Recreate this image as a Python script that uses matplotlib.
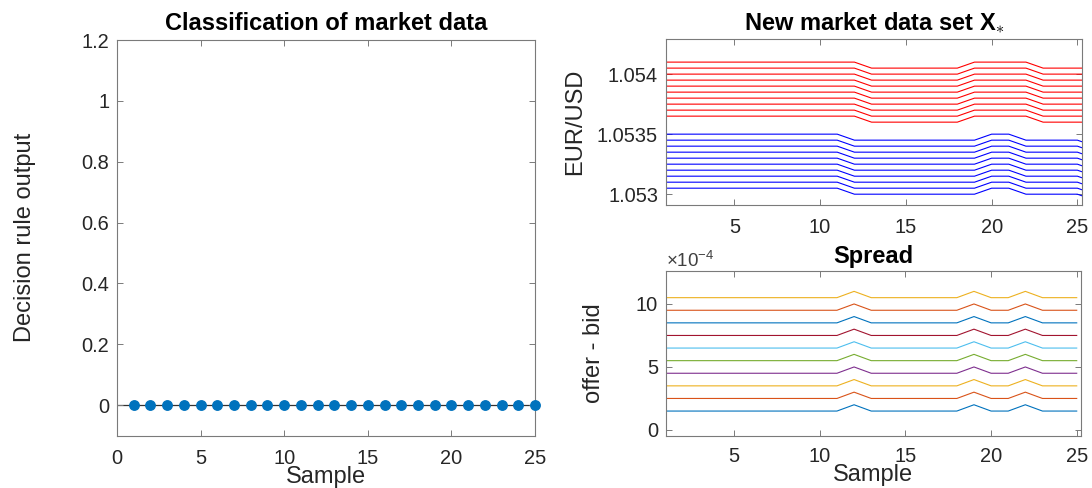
import matplotlib
matplotlib.use("Agg")
import matplotlib.pyplot as plt
import numpy as np
from matplotlib.ticker import FuncFormatter, FixedLocator, MultipleLocator

plt.rcParams['font.family'] = ['Liberation Sans', 'DejaVu Sans']
plt.rcParams['mathtext.fontset'] = 'custom'
plt.rcParams['mathtext.rm'] = 'Liberation Sans'
plt.rcParams['mathtext.it'] = 'Liberation Sans:italic'
plt.rcParams['mathtext.bf'] = 'Liberation Sans:bold'

# ---------------- data ----------------
samples = list(range(1, 26))
decision = [0] * 25

price_samples = list(range(1, 27))
offer_levels = [1.05410, 1.05405, 1.05400, 1.05395, 1.05390,
                1.05385, 1.05380, 1.05375, 1.05370, 1.05365]
bid_levels = [1.05350, 1.05345, 1.05340, 1.05335, 1.05330,
              1.05325, 1.05320, 1.05315, 1.05310, 1.05305]
# shifts in units of 1e-4 for samples 1..26
offer_shift = [0, 0, 0, 0, 0, 0, 0, 0, 0, 0, 0, 0,
               -0.5, -0.5, -0.5, -0.5, -0.5, -0.5,
               0, 0, 0, 0,
               -0.5, -0.5, -0.5, -0.5]
bid_shift = [0, 0, 0, 0, 0, 0, 0, 0, 0, 0, 0,
             -0.5, -0.5, -0.5, -0.5, -0.5, -0.5, -0.5, -0.5,
             0, 0,
             -0.5, -0.5, -0.5, -0.5, -1.0]

spread_levels = [1.5, 2.5, 3.5, 4.5, 5.5, 6.5, 7.5, 8.5, 9.5, 10.5]  # x 1e-4
spread_bump = [0, 0, 0, 0, 0, 0, 0, 0, 0, 0, 0, 0.5, 0, 0, 0, 0, 0, 0,
               0.5, 0, 0, 0.5, 0, 0, 0]

matlab_colors = ['#0072BD', '#D95319', '#EDB120', '#7E2F8E',
                 '#77AC30', '#4DBEEE', '#A2142F']

# ---------------- figure ----------------
W, H = 1092, 488
fig = plt.figure(figsize=(W / 100, H / 100), dpi=100)

def px_axes(l, t, r, b):
    return fig.add_axes([l / W, (H - b) / H, (r - l) / W, (b - t) / H])

edge = '#7a7a7a'
tcol = '#262626'
TICK = 14.4
LAB = 17

def style(ax, xpad=9.5):
    for s in ax.spines.values():
        s.set_color(edge)
        s.set_linewidth(0.8)
    ax.tick_params(direction='in', length=4, width=0.7, color=edge,
                   labelcolor=tcol, labelsize=TICK, top=True, right=True)
    ax.tick_params(axis='x', pad=xpad)
    ax.tick_params(axis='y', pad=5.5)

gfmt = FuncFormatter(lambda v, p: '%g' % round(v, 6))

# Left: classification
ax1 = px_axes(117, 40, 535, 435.5)
style(ax1)
ax1.axhline(0, color='#333333', lw=0.9, zorder=1)
ax1.plot(samples, decision, 'o', color='#0072BD', ms=6.8, clip_on=False, zorder=3)
ax1.set_xlim(0, 25)
ax1.set_ylim(-0.1, 1.2)
ax1.xaxis.set_major_locator(FixedLocator([0, 5, 10, 15, 20, 25]))
ax1.yaxis.set_major_locator(FixedLocator([0, 0.2, 0.4, 0.6, 0.8, 1.0, 1.2]))
ax1.yaxis.set_major_formatter(gfmt)
ax1.set_title('Classification of market data', fontsize=LAB, fontweight='bold', pad=7)
ax1.set_xlabel('Sample', fontsize=LAB, labelpad=-1.5, color=tcol)
ax1.set_ylabel('Decision rule output', fontsize=LAB, labelpad=33, color=tcol)

# Top right: prices
ax2 = px_axes(665.7, 39.3, 1081.7, 205)
style(ax2)
for lvl in offer_levels:
    ax2.plot(price_samples, [lvl + s * 1e-4 for s in offer_shift], color='#FF0000', lw=0.8)
for lvl in bid_levels:
    ax2.plot(price_samples, [lvl + s * 1e-4 for s in bid_shift], color='#0000FF', lw=0.8)
ax2.set_xlim(1, 25.25)
ax2.set_ylim(1.05291, 1.05429)
ax2.xaxis.set_major_locator(FixedLocator([5, 10, 15, 20, 25]))
ax2.yaxis.set_major_locator(FixedLocator([1.053, 1.0535, 1.054]))
ax2.yaxis.set_major_formatter(gfmt)
ax2.set_title(r'New market data set X$_{\ast}$', fontsize=LAB, fontweight='bold', pad=7)
ax2.set_ylabel('EUR/USD', fontsize=LAB, color=tcol, labelpad=8)

# Bottom right: spread
ax3 = px_axes(665.7, 270.7, 1081, 436)
style(ax3, xpad=8)
for i, lvl in enumerate(spread_levels):
    ax3.plot(samples, [(lvl + b) * 1e-4 for b in spread_bump],
             color=matlab_colors[i % 7], lw=0.8)
ax3.set_xlim(1, 25.25)
ax3.set_ylim(-0.48e-4, 12.64e-4)
ax3.xaxis.set_major_locator(FixedLocator([5, 10, 15, 20, 25]))
ax3.yaxis.set_major_locator(MultipleLocator(5e-4))
ax3.yaxis.set_major_formatter(FuncFormatter(lambda v, p: '%g' % round(v * 1e4, 6)))
ax3.text(0.0, 1.0, r'$\times10^{-4}$', transform=ax3.transAxes, fontsize=13.5,
         color='#404040', ha='left', va='bottom')
ax3.set_title('Spread', fontsize=LAB, fontweight='bold', pad=5.5)
ax3.set_xlabel('Sample', fontsize=LAB, labelpad=-1.5, color=tcol)
ax3.set_ylabel('offer - bid', fontsize=LAB, color=tcol, labelpad=22)

fig.savefig('out.png', dpi=100)
